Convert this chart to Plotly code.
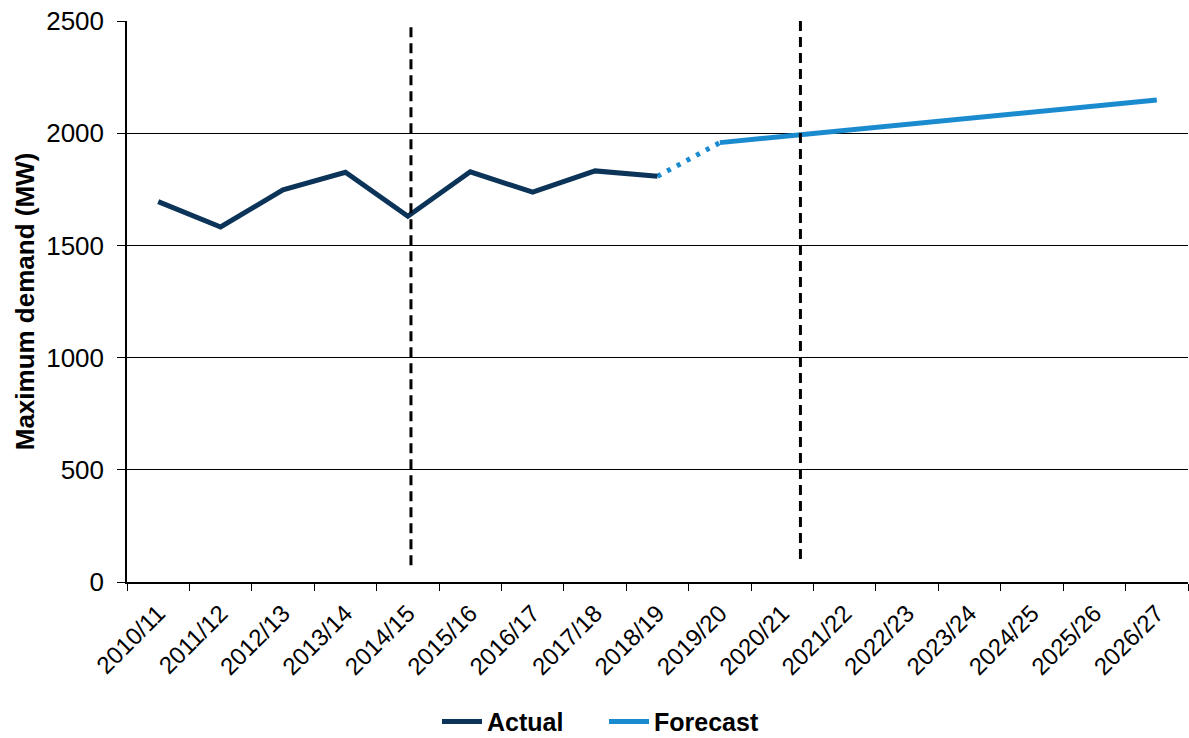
import plotly.graph_objects as go

# Financial years on the category axis
years = ["2010/11", "2011/12", "2012/13", "2013/14", "2014/15", "2015/16",
         "2016/17", "2017/18", "2018/19", "2019/20", "2020/21", "2021/22",
         "2022/23", "2023/24", "2024/25", "2025/26", "2026/27"]

# Recorded maximum demand (MW)
actual_years = years[:9]
actual_mw = [1695, 1582, 1748, 1826, 1630, 1828, 1737, 1832, 1808]

# Forecast maximum demand (MW)
forecast_years = years[9:]
forecast_mw = [1958, 1985, 2012, 2039, 2066, 2093, 2120, 2148]

# Bridge between last actual and first forecast year
bridge_years = [actual_years[-1], forecast_years[0]]
bridge_mw = [actual_mw[-1], forecast_mw[0]]

# Period markers (category position, y start, y end)
markers = [(4.05, 2472, 50), (10.29, 2500, 85)]

NAVY = "#0c3358"
BLUE = "#1b8bcf"
FONT = "Liberation Sans, Arial, sans-serif"

fig = go.Figure()
fig.add_trace(go.Scatter(x=bridge_years, y=bridge_mw, mode="lines",
                         line=dict(color=BLUE, width=5, dash="4px,7px"),
                         showlegend=False, hoverinfo="skip"))
fig.add_trace(go.Scatter(x=actual_years, y=actual_mw, mode="lines", name="Actual",
                         line=dict(color=NAVY, width=5)))
fig.add_trace(go.Scatter(x=forecast_years, y=forecast_mw, mode="lines", name="Forecast",
                         line=dict(color=BLUE, width=5)))

for xpos, y0, y1 in markers:
    fig.add_shape(type="line", xref="x", yref="y", x0=xpos, x1=xpos, y0=y0, y1=y1,
                  line=dict(color="black", width=3, dash="10px,6px"), layer="above")

fig.update_layout(
    width=1189, height=738,
    margin=dict(l=127, r=1, t=21, b=156, autoexpand=False),
    paper_bgcolor="white", plot_bgcolor="white",
    font=dict(family=FONT, color="black"),
    showlegend=True,
    legend=dict(orientation="h", xref="container", yref="container",
                x=0.508, xanchor="center", y=0.022, yanchor="middle",
                font=dict(size=25, family=FONT, weight="bold"),
                itemwidth=40, entrywidth=112, tracegroupgap=0),
    xaxis=dict(type="category", categoryorder="array", categoryarray=years,
               range=[-0.5, 16.5], showgrid=False, showline=True, linecolor="black",
               linewidth=1.5, ticks="outside", tickson="boundaries", ticklen=7,
               tickcolor="black", tickangle=-45, ticklabelstandoff=6, automargin=False,
               tickfont=dict(size=24, family=FONT)),
    yaxis=dict(range=[0, 2500], tickvals=[0, 500, 1000, 1500, 2000, 2500],
               showgrid=True, gridcolor="black", gridwidth=1, zeroline=False,
               showline=True, linecolor="black", linewidth=1.5, automargin=False,
               ticks="outside", ticklen=8, tickcolor="black", ticklabelstandoff=8,
               tickfont=dict(size=26, family=FONT),
               title=dict(text="Maximum demand (MW)", standoff=4,
                          font=dict(size=26, family=FONT, weight="bold"))),
)

fig.write_html("out.html")
